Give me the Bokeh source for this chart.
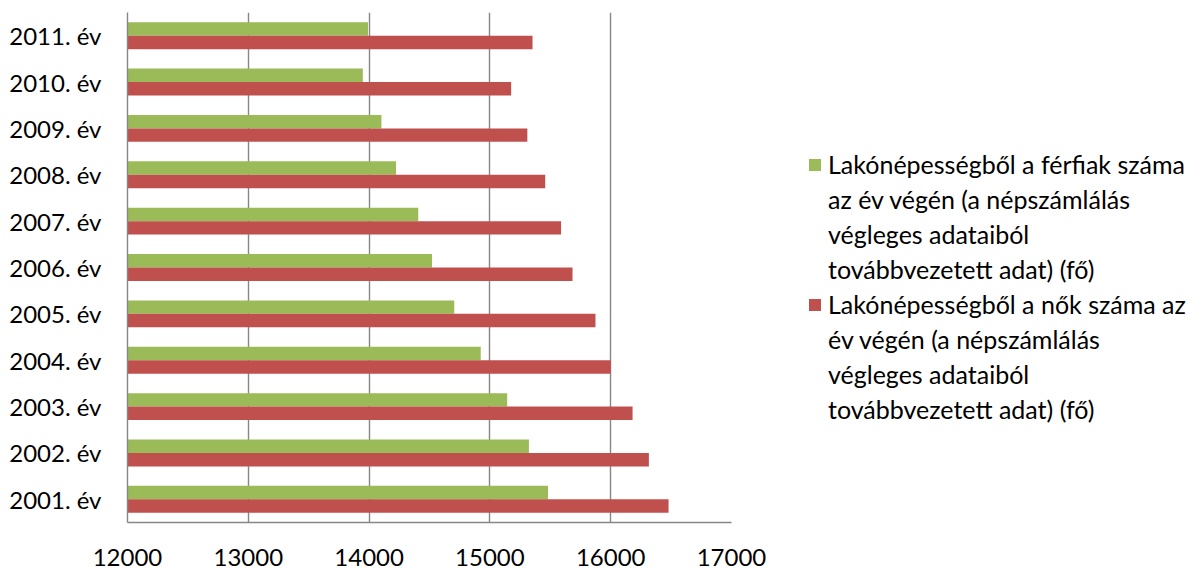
from bokeh.plotting import figure
from bokeh.models import (FactorRange, Range1d, Legend, LegendItem,
                          ColumnDataSource, FixedTicker, BasicTickFormatter)
from bokeh.transform import dodge
from bokeh.embed import file_html
from bokeh.resources import INLINE

# ---- data ----
years = ["2001. év", "2002. év", "2003. év", "2004. év", "2005. év", "2006. év",
         "2007. év", "2008. év", "2009. év", "2010. év", "2011. év"]
men = [15481, 15323, 15143, 14924, 14705, 14521, 14407, 14223, 14102, 13948, 13991]
women = [16479, 16316, 16181, 16001, 15874, 15684, 15589, 15458, 15310, 15176, 15353]
x_ticks = [12000, 13000, 14000, 15000, 16000, 17000]
label_men = ["Lakónépességből a férfiak száma", "az év végén (a népszámlálás",
             "végleges adataiból", "továbbvezetett adat) (fő)"]
label_women = ["Lakónépességből a nők száma az", "év végén (a népszámlálás",
               "végleges adataiból", "továbbvezetett adat) (fő)"]

GREEN = "#9BBB59"
RED = "#C0504D"
GREY = "#868686"
FONT = "Lato"
FS = "24px"

src = ColumnDataSource(dict(year=years, men=men, women=women))

p = figure(y_range=FactorRange(*years), x_range=Range1d(x_ticks[0], x_ticks[-1]),
           width=1191, height=569, frame_width=604, frame_height=510,
           min_border_left=127, min_border_top=12, min_border_right=460,
           min_border_bottom=47, output_backend="svg", toolbar_location=None)

base = x_ticks[0]
r_men = p.hbar(y=dodge("year", 0.145, range=p.y_range), left=base, right="men",
               height=0.29, source=src, fill_color=GREEN, line_color=None)
r_women = p.hbar(y=dodge("year", -0.145, range=p.y_range), left=base, right="women",
                 height=0.29, source=src, fill_color=RED, line_color=None)

p.outline_line_color = None
p.ygrid.visible = False
p.xgrid.grid_line_color = GREY
p.xgrid.grid_line_width = 1.4
p.xaxis.ticker = FixedTicker(ticks=x_ticks)
p.xaxis.formatter = BasicTickFormatter(use_scientific=False)

for ax in (p.xaxis[0], p.yaxis[0]):
    ax.axis_line_color = GREY
    ax.axis_line_width = 1.4
    ax.major_tick_line_color = None
    ax.minor_tick_line_color = None
    ax.major_tick_in = 0
    ax.major_tick_out = 0
    ax.major_label_text_font = FONT
    ax.major_label_text_font_size = FS
    ax.major_label_text_color = "#000000"
p.yaxis.major_label_standoff = 26
p.xaxis.major_label_standoff = 26

items = []
for series, lines in ((r_men, label_men), (r_women, label_women)):
    for i, line in enumerate(lines):
        items.append(LegendItem(label=line, renderers=[series] if i == 0 else []))

legend = Legend(items=items, location=(76, 96))
legend.border_line_color = None
legend.background_fill_alpha = 0
legend.padding = 0
legend.margin = 0
legend.spacing = 1
legend.glyph_width = 15
legend.glyph_height = 15
legend.label_height = 34
legend.label_standoff = 6
legend.label_text_font = FONT
legend.label_text_font_size = "25px"
legend.label_text_color = "#000000"
p.add_layout(legend, "right")

open("out.html", "w").write(file_html(p, INLINE))
